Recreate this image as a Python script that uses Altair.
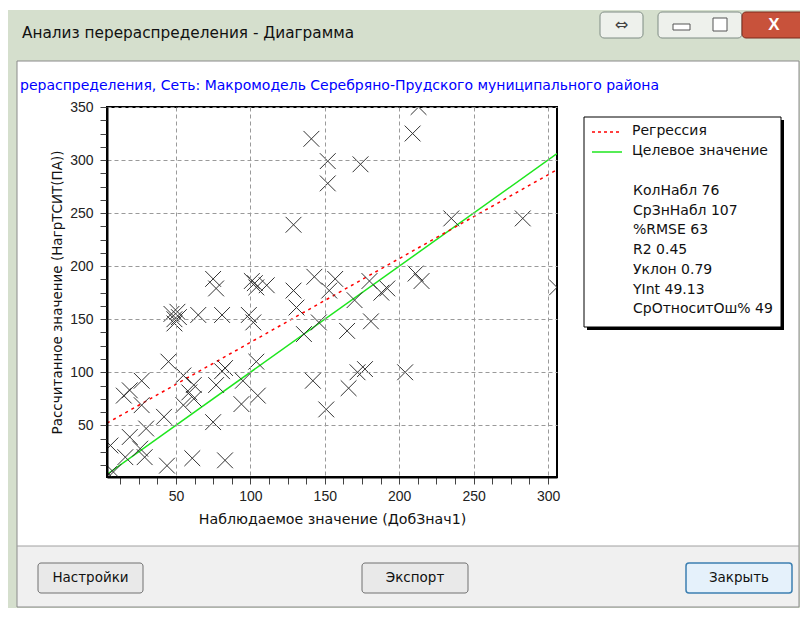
import altair as alt
import pandas as pd

# ---------------- data ----------------
observed = [141, 213, 209, 152, 174, 152, 129, 235, 283, 306,
            75, 77, 101, 103, 111, 104, 143, 129, 131, 157,
            153, 180, 188, 192, 211, 215, 170, 181, 165, 146,
            136, 47, 49, 51, 52, 49, 65, 81, 99, 102,
            45, 104, 81, 83, 27, 55, 19, 15, 62, 59,
            62, 77, 95, 105, 94, 142, 151, 27, 42, 55,
            30, 19, 6, 26, 16, 29, 44, 61, 83, 75,
            8, 172, 177, 204, 166, 5]
predicted = [320, 350, 325, 299, 296, 278, 239, 245, 245, 180,
             188, 179, 186, 184, 182, 180, 190, 177, 161, 188,
             177, 186, 175, 179, 193, 186, 168, 148, 139, 147,
             136, 155, 150, 157, 152, 146, 154, 154, 154, 147,
             110, 110, 101, 104, 92, 97, 83, 78, 88, 81,
             75, 88, 92, 78, 70, 92, 65, 69, 58, 69,
             47, 39, 31, 28, 20, 20, 12, 19, 17, 53,
             6, 100, 103, 100, 85, 4]

reg_slope = 0.79
reg_intercept = 49.13
x_domain = [3.7, 306]
y_domain = [1.3, 350]
x_labels = [50, 100, 150, 200, 250, 300]
y_labels = [50, 100, 150, 200, 250, 300, 350]
minor_step = 12.5

chart_title = "рераспределения, Сеть: Макромодель Серебряно-Прудского муниципального района"
window_title = "Анализ перераспределения - Диаграмма"
x_title = "Наблюдаемое значение (ДобЗнач1)"
y_title = "Рассчитанное значение (НагрТСИТ(ПА))"
legend_series = ["Регрессия", "Целевое значение"]
stat_names = ["КолНабл", "СрЗнНабл", "%RMSE", "R2", "Уклон", "YInt", "СрОтноситОш%"]
stat_values = ["76", "107", "63", "0.45", "0.79", "49.13", "49"]
button_labels = ["Настройки", "Экспорт", "Закрыть"]

# ---------------- tables ----------------
pts = pd.DataFrame({"obs": observed, "pred": predicted})
reg = pd.DataFrame({"obs": x_domain,
                    "pred": [reg_slope * v + reg_intercept for v in x_domain]})
tgt = pd.DataFrame({"obs": x_domain, "pred": x_domain})
one = pd.DataFrame({"k": [0]})

x_ticks = [minor_step * i for i in range(1, int(x_domain[1] // minor_step) + 1)]
y_ticks = [minor_step * i for i in range(1, int(y_domain[1] // minor_step) + 1)]

FONT = "Liberation Sans"   # digits
TFONT = "DejaVu Sans"      # words
O = 107  # page position of the plot-area origin (both axes)


def P(v):
    return v - O


major_test = "datum.value % 50 === 0"

x_axis = alt.Axis(values=x_ticks, labelExpr=f"{major_test} ? datum.label : ''",
                  title=x_title, grid=True, gridColor="#9a9a9a", gridDash=[4, 3],
                  gridOpacity={"condition": {"test": major_test, "value": 1}, "value": 0},
                  tickSize=7, tickColor="#444", domainColor="black", domainWidth=2,
                  labelFont=FONT, labelFontSize=14, labelColor="#222", labelPadding=5,
                  labelOverlap=False, labelFlush=False,
                  titleFont=TFONT, titleFontSize=14.2, titleFontWeight="normal",
                  titleColor="#111", titlePadding=9, zindex=1)
y_axis = alt.Axis(values=y_ticks, labelExpr=f"{major_test} ? datum.label : ''",
                  title=y_title, grid=True, gridColor="#9a9a9a", gridDash=[4, 3],
                  gridOpacity={"condition": {"test": major_test, "value": 1}, "value": 0},
                  tickSize=7, tickColor="#444", domainColor="black", domainWidth=2,
                  labelFont=FONT, labelFontSize=14, labelColor="#222", labelPadding=7,
                  labelOverlap=False, labelFlush=False,
                  titleFont=TFONT, titleFontSize=13.5, titleFontWeight="normal",
                  titleColor="#111", titlePadding=5, zindex=1)

x_enc = alt.X("obs:Q", scale=alt.Scale(domain=x_domain, nice=False, zero=False), axis=x_axis)
y_enc = alt.Y("pred:Q", scale=alt.Scale(domain=y_domain, nice=False, zero=False), axis=y_axis)


def rect(x1, y1, x2, y2, **style):
    return alt.Chart(one).mark_rect(**style).encode(
        x=alt.value(P(x1)), x2=alt.value(P(x2)), y=alt.value(P(y1)), y2=alt.value(P(y2)))


def text(x, y, s, **style):
    kw = dict(align="left", baseline="middle", font=TFONT, fontSize=13.5, color="#111")
    kw.update(style)
    return alt.Chart(one).mark_text(text=s, **kw).encode(x=alt.value(P(x)), y=alt.value(P(y)))


def hline(x1, x2, y, **style):
    return alt.Chart(one).mark_rule(**style).encode(
        x=alt.value(P(x1)), x2=alt.value(P(x2)), y=alt.value(P(y)))


# ---------------- window chrome ----------------
frame = "#d5dfcd"
chrome = [
    rect(0, 10, 820, 61, fill=frame),                      # title bar
    rect(0, 61, 17, 620, fill=frame),                      # left border
    rect(799, 61, 820, 620, fill=frame),                   # right border
    rect(17, 546, 799, 607, fill="#f0f0f0"),               # button strip
    rect(0, 607, 820, 620, fill=frame),                    # bottom border
    rect(17, 61, 799, 607, fillOpacity=0, stroke="#8a8a8a", strokeWidth=1),
    hline(17, 799, 546, color="#a0a0a0", strokeWidth=1),
    text(22, 33, window_title, fontSize=15.3, color="#111"),
    rect(600, 12, 643, 38, fill="#eef1ec", stroke="#7f8c84", cornerRadius=4),
    text(621.5, 25, "⇔", align="center", fontSize=16, color="#444"),
    rect(658, 12, 742, 38, fill="#eef1ec", stroke="#7f8c84", cornerRadius=4),
    rect(673, 24, 690, 30, fill="#ffffff", stroke="#555"),
    rect(713, 18, 727, 31, fill="#ffffff", stroke="#555"),
    rect(742, 12, 806, 38, fill="#c8523b", stroke="#7a2a1c", cornerRadius=4),
    text(774, 25, "X", align="center", font=FONT, fontSize=17, fontWeight="bold", color="white"),
    rect(38, 563, 143, 593, fill="#e9e9e9", stroke="#707070", cornerRadius=3),
    rect(362, 563, 468, 593, fill="#e9e9e9", stroke="#707070", cornerRadius=3),
    rect(686, 563, 792, 593, fill="#e5f1fb", stroke="#3c7fb1", strokeWidth=1.5, cornerRadius=3),
    text(90.5, 578, button_labels[0], align="center"),
    text(415, 578, button_labels[1], align="center"),
    text(739, 578, button_labels[2], align="center"),
    text(20, 86, chart_title, fontSize=14, color="#0000ff"),
]

# ---------------- plot ----------------
x_shape = "M-1,-1L1,1M-1,1L1,-1"
points = alt.Chart(pts).mark_point(shape=x_shape, filled=False, stroke="#333333",
                                   strokeWidth=1, size=250, opacity=1, clip=True).encode(
    x=x_enc, y=y_enc)
reg_line = alt.Chart(reg).mark_line(color="#ff0000", strokeWidth=1.5, strokeDash=[3, 4],
                                    clip=True).encode(x=x_enc, y=y_enc)
tgt_line = alt.Chart(tgt).mark_line(color="#1ee61e", strokeWidth=1.5, clip=True).encode(
    x=x_enc, y=y_enc)

# ---------------- legend box ----------------
series_text = "\n".join(legend_series)
stats_text = "\n".join(f"{n} {v}" for n, v in zip(stat_names, stat_values))
legend = [
    rect(587, 120, 784, 330, fill="black"),
    rect(584, 117, 781, 327, fill="white", stroke="black", strokeWidth=1),
    hline(592, 622, 132, color="#ff0000", strokeWidth=1.5, strokeDash=[3, 3]),
    hline(592, 622, 152, color="#1ee61e", strokeWidth=1.5),
    alt.Chart(one).mark_text(text=series_text, align="left", baseline="top", font=TFONT,
                             fontSize=14, color="#111", lineBreak="\n", lineHeight=20).encode(
        x=alt.value(P(632)), y=alt.value(P(124))),
    alt.Chart(one).mark_text(text=stats_text, align="left", baseline="top", font=TFONT,
                             fontSize=14, color="#111", lineBreak="\n", lineHeight=19.7).encode(
        x=alt.value(P(633)), y=alt.value(P(184))),
]

chart = alt.layer(*chrome, tgt_line, reg_line, points, *legend).properties(
    width=450, height=370,
    padding={"left": 99, "top": 99, "right": 243, "bottom": 131},
    autosize=alt.AutoSizeParams(type="none"),
    background="white",
).configure_view(stroke="black", strokeWidth=2)

chart.save("out.html", embed_options={"renderer": "svg", "actions": False})
